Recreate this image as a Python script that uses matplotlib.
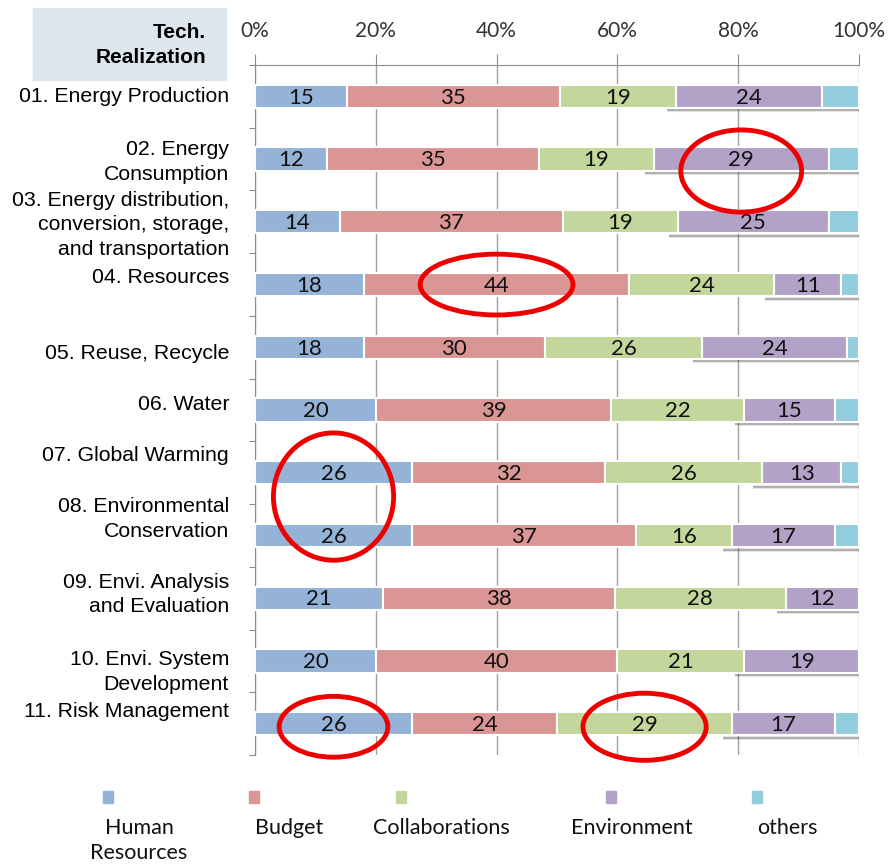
import matplotlib
matplotlib.use("Agg")
import matplotlib.pyplot as plt
import numpy as np
from matplotlib.patches import Ellipse, Rectangle
from matplotlib.transforms import blended_transform_factory

categories = [
    "01. Energy Production",
    "02. Energy\nConsumption",
    "03. Energy distribution,\nconversion, storage,\nand transportation",
    "04. Resources",
    "05. Reuse, Recycle",
    "06. Water",
    "07. Global Warming",
    "08. Environmental\nConservation",
    "09. Envi. Analysis\nand Evaluation",
    "10. Envi. System\nDevelopment",
    "11. Risk Management",
]
series_names = ["Human\nResources", "Budget", "Collaborations", "Environment", "others"]
human = [15, 12, 14, 18, 18, 20, 26, 26, 21, 20, 26]
budget = [35, 35, 37, 44, 30, 39, 32, 37, 38, 40, 24]
collab = [19, 19, 19, 24, 26, 22, 26, 16, 28, 21, 29]
environment = [24, 29, 25, 11, 24, 15, 13, 17, 12, 19, 17]
others = [6, 5, 5, 3, 2, 4, 3, 4, 0, 0, 4]
tick_labels = ["0%", "20%", "40%", "60%", "80%", "100%"]

colors = ["#95b3d7", "#d99694", "#c3d69b", "#b3a2c7", "#93cddd"]
labelled = [True, True, True, True, False]

# (rows, series, width %, height in rows, vertical shift)
highlights = [
    ((1,), 3, 20.0, 1.31, 0.19),
    ((3,), 1, 25.3, 0.97, 0.0),
    ((6, 7), 0, 19.9, 2.03, -0.12),
    ((10,), 0, 18.0, 0.97, 0.05),
    ((10,), 2, 20.4, 1.07, 0.05),
]
label_shift = [0, 0.05, 0.05, -0.11, 0.1, -0.08, -0.27, -0.26, -0.06, 0.18, -0.19]

data = np.array([human, budget, collab, environment, others], dtype=float)
pct = data / data.sum(axis=0) * 100
starts = np.cumsum(pct, axis=0) - pct

W, H = 892, 865
fig = plt.figure(figsize=(W / 100, H / 100), dpi=100)
ax = fig.add_axes([255 / W, 1 - 755 / H, 604 / W, 690 / H])

y = np.arange(len(categories))
bar_h = 0.37
for k in range(len(series_names)):
    ax.barh(y, pct[k], left=starts[k], height=bar_h, color=colors[k],
            edgecolor="white", linewidth=1.5, zorder=3)
    if labelled[k]:
        for i in range(len(y)):
            ax.text(starts[k][i] + pct[k][i] / 2, y[i] + 0.02, f"{data[k][i]:.0f}",
                    ha="center", va="center", fontsize=16, family="Lato",
                    color="#111111", zorder=5)

# soft shadow beneath the right-hand segments
for i in range(len(y)):
    x0 = starts[3][i] - 1.5
    yy = y[i] + bar_h / 2 + 0.04
    ax.plot([x0, 100], [yy, yy], color="#555555", lw=3, alpha=0.15,
            solid_capstyle="butt", zorder=2)
    ax.plot([x0, 100], [yy, yy], color="#444444", lw=1.2, alpha=0.4,
            solid_capstyle="butt", zorder=2)

for rows, s, w, h, dy in highlights:
    cx = np.mean([starts[s][r] + pct[s][r] / 2 for r in rows])
    cy = np.mean(rows) + dy
    ax.add_patch(Ellipse((cx, cy), w, h, fill=False, edgecolor="#ee0000",
                         lw=3.5, zorder=6, clip_on=False))

ax.set_xlim(0, 100)
ax.set_ylim(len(categories) - 0.5, -0.5)
ax.xaxis.tick_top()
ax.set_xticks(np.arange(0, 101, 20))
ax.set_xticklabels(tick_labels, family="Lato", fontsize=15, color="#333333")
ax.tick_params(axis="x", direction="out", length=8, color="#8c8c8c", pad=9)
ax.set_yticks(np.arange(len(categories) + 1) - 0.5)
ax.set_yticklabels([])
ax.tick_params(axis="y", direction="out", length=4, color="#8c8c8c")
ax.grid(axis="x", color="#a0a0a0", lw=1, zorder=0)
for side in ["right", "bottom"]:
    ax.spines[side].set_visible(False)
for side in ["top", "left"]:
    ax.spines[side].set_color("#8c8c8c")

trans = blended_transform_factory(ax.transAxes, ax.transData)
for i, name in enumerate(categories):
    ax.text(-0.043, i + label_shift[i], name, transform=trans, ha="right",
            va="center", fontsize=15.3, family="Liberation Sans", color="black",
            linespacing=1.38)

# header box
fig.patches.append(Rectangle((33 / W, 1 - 80 / H), 193 / W, 72 / H,
                             transform=fig.transFigure, color="#dce6ec", zorder=0))
fig.text(206 / W, 1 - 45 / H, "Tech.\nRealization", ha="right", va="center",
         fontsize=15, fontweight="bold", family="Liberation Sans", linespacing=1.38)

# legend along the bottom
swatch_x = [108, 254, 401, 611, 757]
label_x = [139, 289, 441, 632, 787]
for k, name in enumerate(series_names):
    fig.patches.append(Rectangle(((swatch_x[k] - 5) / W, 1 - 803 / H), 10 / W, 12 / H,
                                 transform=fig.transFigure, color=colors[k]))
    fig.text(label_x[k] / W, 1 - 818 / H, name, ha="center", va="top",
             fontsize=15.5, family="Lato", color="#111111", linespacing=1.3)

fig.savefig("out.png", dpi=100)
